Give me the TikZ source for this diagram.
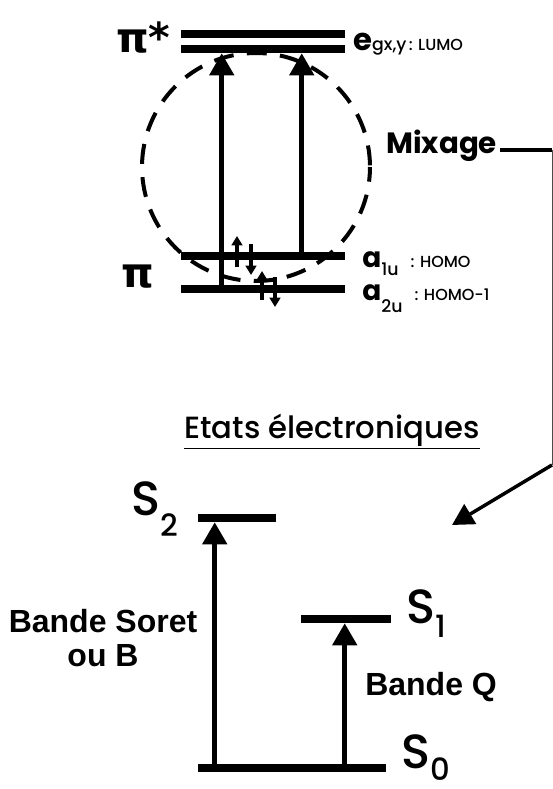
\documentclass[tikz,border=0pt]{standalone}
\usepackage{fontspec}
\setmainfont{Poppins}
\newfontfamily\medfont{Poppins Medium}
\newfontfamily\grkfont{DejaVu Sans}
\newfontfamily\arialfont{Liberation Sans}
\usetikzlibrary{arrows.meta,calc}

\tikzset{
  level/.style={fill=black, inner sep=0pt, minimum height=6pt},
  trans/.style={line width=3.5pt, -{Triangle[length=16.5pt,width=18pt]}},
  spin/.style={line width=2.6pt, -{Triangle[length=7pt,width=8pt]}},
  link/.style={line width=2.6pt},
  lbl/.style={anchor=base west, inner sep=0pt},
  band/.style={font=\arialfont\bfseries\fontsize{24}{26}\selectfont, align=center, inner sep=0pt}
}

\begin{document}
\begin{tikzpicture}[x=0.75pt,y=-0.75pt]
        \useasboundingbox (0,0) rectangle (553,789);

        % niveaux orbitalaires et etats
        \foreach \name/\x/\y/\w in {
          lumoA/263/34/123pt,
          lumoB/263/49/123pt,
          homo/263/256/123pt,
          homoB/263/289/123pt,
          S2/237/518/58.5pt,
          S1/346/619/67.5pt,
          S0/292/768/141pt
        } {
          \node[level, minimum width=\w] (\name) at (\x,\y) {};
        }

        % transitions
        \draw[trans] ($(homoB.north west)+(41,0)$) -- ($(lumoB.south west)+(41,0)$);
        \draw[trans] ($(homo.north west)+(121,0)$) -- ($(lumoB.south west)+(121,0)$);
        \draw[trans] ($(S0.north west)+(17,0)$) -- ($(S2.south west)+(17,0)$);
        \draw[trans] ($(S0.north west)+(147,0)$) -- ($(S1.south west)+(44,0)$);

        % electrons
        \draw[spin] (237,267) -- (237,236);
        \draw[spin] (251,244) -- (251,275);
        \draw[spin] (262,300) -- (262,271);
        \draw[spin] (275,277) -- (275,307);

        % zone de mixage
        \coordinate (orb) at (256,167);
        \draw[line width=3pt, dash pattern=on 15pt off 10pt, dash phase=4pt] (orb) circle[radius=114];

        \node[lbl, font=\grkfont\bfseries\fontsize{31}{31}\selectfont] (pistar) at (116,52) {π*};
        \node[lbl, font=\grkfont\bfseries\fontsize{31}{31}\selectfont] (pi) at (121,287) {π};

        \node[lbl] (eg) at (353,50) {{\fontsize{23}{23}\selectfont\bfseries e}{\medfont\fontsize{13}{13}\selectfont gx,y}\,{\medfont\fontsize{12}{12}\selectfont: LUMO}};
        \node[lbl] (a1u) at (362,267) {{\fontsize{21}{21}\selectfont\bfseries a}\raisebox{-6pt}{\medfont\fontsize{13}{13}\selectfont 1u}\hspace{9pt}{\medfont\fontsize{12}{12}\selectfont: HOMO}};
        \node[lbl] (a2u) at (362,300) {{\fontsize{21}{21}\selectfont\bfseries a}\raisebox{-9pt}{\medfont\fontsize{13}{13}\selectfont 2u}\hspace{9pt}{\medfont\fontsize{12}{12}\selectfont: HOMO-1}};

        \node[lbl, font=\bfseries\fontsize{22}{22}\selectfont] (mix) at (386,153) {Mixage};
        \coordinate (mixR) at (552,150);
        \coordinate (mixD) at (552,465);
        \coordinate (target) at (452,525);
        \draw[link] ($(mix.base east)+(3,-3)$) -- (mixR);
        \draw[black!70, line width=0.75pt] (mixR) -- (mixD);
        \draw[link, -{Triangle[length=16pt,width=17pt]}] (mixD) -- (target);

        % etats electroniques
        \node[anchor=base, inner sep=0pt, font=\medfont\fontsize{23}{23}\selectfont] (etats) at (332,438) {\underline{Etats électroniques}};

        \foreach \n/\x/\y/\d in {2/131/515/16pt, 1/406/623/11pt, 0/401/768/9pt} {
          \node[lbl, font=\medfont\fontsize{36}{36}\selectfont] (S\n lab) at (\x,\y) {S\raisebox{-\d}{\fontsize{23}{23}\selectfont\n}};
        }

        \node[band] (soret) at (103,638) {Bande Soret\\ou B};
        \node[band, anchor=base west] (bandQ) at (365,695) {Bande Q};

      \end{tikzpicture}
\end{document}
